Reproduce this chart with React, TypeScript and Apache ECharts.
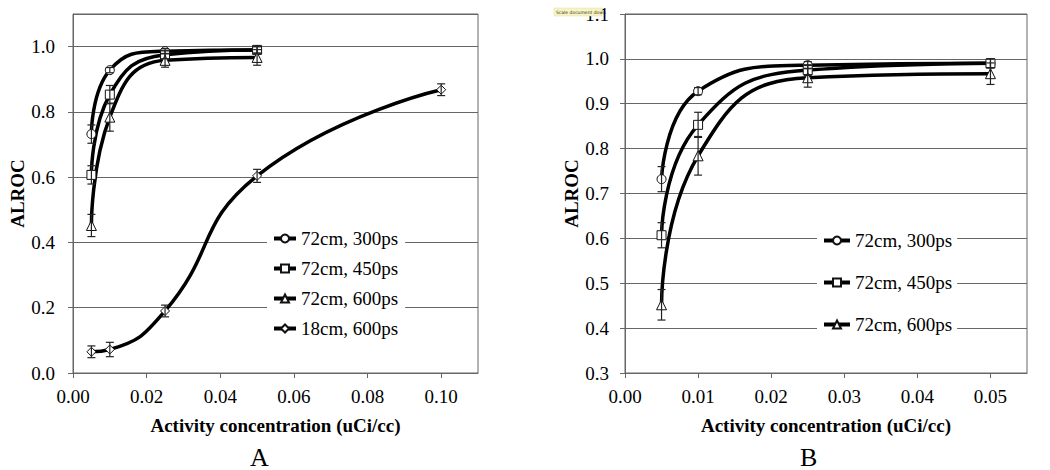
import React, { useEffect, useRef } from "react";
import * as echarts from "echarts";

// Concentrations (uCi/cc)
const conc72 = [0.005, 0.01, 0.025, 0.05];
const conc18 = [0.005, 0.01, 0.025, 0.05, 0.1];

// ALROC values and error half-widths
const alroc300 = [0.732, 0.928, 0.986, 0.99];
const err300 = [0.028, 0.008, 0.008, 0.01];
const alroc450 = [0.607, 0.853, 0.975, 0.99];
const err450 = [0.028, 0.028, 0.012, 0.01];
const alroc600 = [0.452, 0.784, 0.958, 0.967];
const err600 = [0.034, 0.043, 0.021, 0.024];
const alroc18 = [0.065, 0.072, 0.19, 0.604, 0.868];
const err18 = [0.018, 0.022, 0.018, 0.02, 0.018];

const names = ["72cm, 300ps", "72cm, 450ps", "72cm, 600ps", "18cm, 600ps"];
const symbols = ["circle", "rect", "triangle", "diamond"];

const leftXTicks = { min: 0, max: 0.11, interval: 0.02 };
const leftYTicks = { min: 0, max: 1.1, interval: 0.2 };
const rightXTicks = { min: 0, max: 0.055, interval: 0.01 };
const rightYTicks = { min: 0.3, max: 1.1, interval: 0.1 };

const FONT = "'Liberation Serif', 'Times New Roman', serif";
const GRID_COLOR = "#666";

function pairs(xs: number[], ys: number[]) {
  return xs.map((x, i) => [x, ys[i]]);
}
function triples(xs: number[], ys: number[], es: number[]) {
  return xs.map((x, i) => [x, ys[i], es[i]]);
}

export default function App() {
  const ref = useRef<HTMLDivElement>(null);

  useEffect(() => {
    document.body.style.margin = "0";
    const chart = echarts.init(ref.current!, undefined, { renderer: "svg" });

    const lineSeries = (name: string, symbol: string, data: number[][], axis: number) => ({
      name,
      type: "line",
      xAxisIndex: axis,
      yAxisIndex: axis,
      data,
      smooth: true,
      symbol,
      symbolSize: symbol === "triangle" ? 10 : 9,
      showAllSymbol: true,
      lineStyle: { color: "#000", width: 3.5 },
      itemStyle: { color: "#fff", borderColor: "#111", borderWidth: 1 },
      z: 3,
    });

    const errSeries = (id: string, data: number[][], axis: number) => ({
      name: id,
      type: "custom",
      xAxisIndex: axis,
      yAxisIndex: axis,
      data,
      z: 4,
      encode: { x: 0, y: 1 },
      renderItem: (_params: any, api: any) => {
        const x = api.value(0);
        const y = api.value(1);
        const e = api.value(2);
        const top = api.coord([x, y + e]);
        const bot = api.coord([x, y - e]);
        const hw = 4;
        const style = { stroke: "#222", lineWidth: 1.2 };
        return {
          type: "group",
          children: [
            { type: "line", shape: { x1: top[0], y1: top[1], x2: bot[0], y2: bot[1] }, style },
            { type: "line", shape: { x1: top[0] - hw, y1: top[1], x2: top[0] + hw, y2: top[1] }, style },
            { type: "line", shape: { x1: bot[0] - hw, y1: bot[1], x2: bot[0] + hw, y2: bot[1] }, style },
          ],
        };
      },
    });

    const xAxisBase = (t: any, idx: number) => ({
      type: "value",
      gridIndex: idx,
      min: t.min,
      max: t.max,
      interval: t.interval,
      name: "Activity concentration (uCi/cc)",
      nameLocation: "middle",
      nameGap: 43,
      nameTextStyle: { fontFamily: FONT, fontWeight: "bold", fontSize: 19, color: "#000" },
      axisLine: { show: true, lineStyle: { color: GRID_COLOR, width: 1 } },
      axisTick: { show: true, inside: false, length: 5, lineStyle: { color: GRID_COLOR } },
      axisLabel: {
        fontFamily: FONT,
        fontSize: 19,
        color: "#000",
        margin: 14,
        showMaxLabel: false,
        formatter: (v: number) => v.toFixed(2),
      },
      splitLine: { show: false },
    });

    const yAxisBase = (t: any, idx: number, showMax: boolean, gap: number, margin: number) => ({
      type: "value",
      gridIndex: idx,
      min: t.min,
      max: t.max,
      interval: t.interval,
      name: "ALROC",
      nameLocation: "middle",
      nameGap: gap,
      nameTextStyle: { fontFamily: FONT, fontWeight: "bold", fontSize: 19, color: "#000" },
      axisLine: { show: true, lineStyle: { color: GRID_COLOR, width: 1 } },
      axisTick: { show: true, inside: false, length: 5, lineStyle: { color: GRID_COLOR } },
      axisLabel: {
        fontFamily: FONT,
        fontSize: 19,
        color: "#000",
        margin,
        showMaxLabel: showMax,
        formatter: (v: number) => v.toFixed(1),
      },
      splitLine: { show: true, lineStyle: { color: GRID_COLOR, width: 1 } },
    });

    const legendBase = {
      orient: "vertical",
      backgroundColor: "#fff",
      selectedMode: false,
      textStyle: { fontFamily: FONT, fontSize: 19, color: "#000" },
      lineStyle: { width: 4, color: "#000" },
    };

    const option: any = {
      animation: false,
      backgroundColor: "#fff",
      textStyle: { fontFamily: FONT },
      grid: [
        { left: 73, right: 572, top: 14, bottom: 97, show: true, borderColor: GRID_COLOR, borderWidth: 1, backgroundColor: "transparent" },
        { left: 625, right: 23, top: 14, bottom: 97, show: true, borderColor: GRID_COLOR, borderWidth: 1, backgroundColor: "transparent" },
      ],
      xAxis: [xAxisBase(leftXTicks, 0), xAxisBase(rightXTicks, 1)],
      yAxis: [yAxisBase(leftYTicks, 0, false, 44, 18), yAxisBase(rightYTicks, 1, true, 42, 16)],
      legend: [
        {
          ...legendBase,
          left: 267,
          top: 227,
          itemWidth: 22,
          itemHeight: 10,
          itemGap: 11,
          padding: [2, 7, 2, 5],
          data: names,
        },
        {
          ...legendBase,
          left: 817,
          top: 229,
          itemWidth: 26,
          itemHeight: 10,
          itemGap: 23,
          padding: [2, 5, 2, 5],
          data: names.slice(0, 3),
        },
      ],
      series: [
        lineSeries(names[0], symbols[0], pairs(conc72, alroc300), 0),
        lineSeries(names[1], symbols[1], pairs(conc72, alroc450), 0),
        lineSeries(names[2], symbols[2], pairs(conc72, alroc600), 0),
        lineSeries(names[3], symbols[3], pairs(conc18, alroc18), 0),
        errSeries("e300a", triples(conc72, alroc300, err300), 0),
        errSeries("e450a", triples(conc72, alroc450, err450), 0),
        errSeries("e600a", triples(conc72, alroc600, err600), 0),
        errSeries("e18a", triples(conc18, alroc18, err18), 0),
        lineSeries(names[0], symbols[0], pairs(conc72, alroc300), 1),
        lineSeries(names[1], symbols[1], pairs(conc72, alroc450), 1),
        lineSeries(names[2], symbols[2], pairs(conc72, alroc600), 1),
        errSeries("e300b", triples(conc72, alroc300, err300), 1),
        errSeries("e450b", triples(conc72, alroc450, err450), 1),
        errSeries("e600b", triples(conc72, alroc600, err600), 1),
      ],
      graphic: [
        {
          type: "text",
          left: 250,
          top: 444,
          z: 100,
          style: { text: "A", fontFamily: FONT, fontSize: 26, fill: "#000" },
        },
        {
          type: "text",
          left: 800,
          top: 444,
          z: 100,
          style: { text: "B", fontFamily: FONT, fontSize: 26, fill: "#000" },
        },
        {
          type: "rect",
          z: 100,
          shape: { x: 554, y: 8, width: 48, height: 8 },
          style: { fill: "#f7f3c4", stroke: "#e2dca0", lineWidth: 0.5 },
        },
        {
          type: "text",
          z: 101,
          x: 556,
          y: 9.5,
          style: { text: "Scale document down", fontFamily: "DejaVu Sans", fontSize: 4.5, fill: "#333" },
        },
      ],
    };

    chart.setOption(option);
    return () => chart.dispose();
  }, []);

  return (
    <div
      ref={ref}
      style={{ position: "absolute", left: 0, top: 0, width: 1050, height: 470 }}
    />
  );
}
